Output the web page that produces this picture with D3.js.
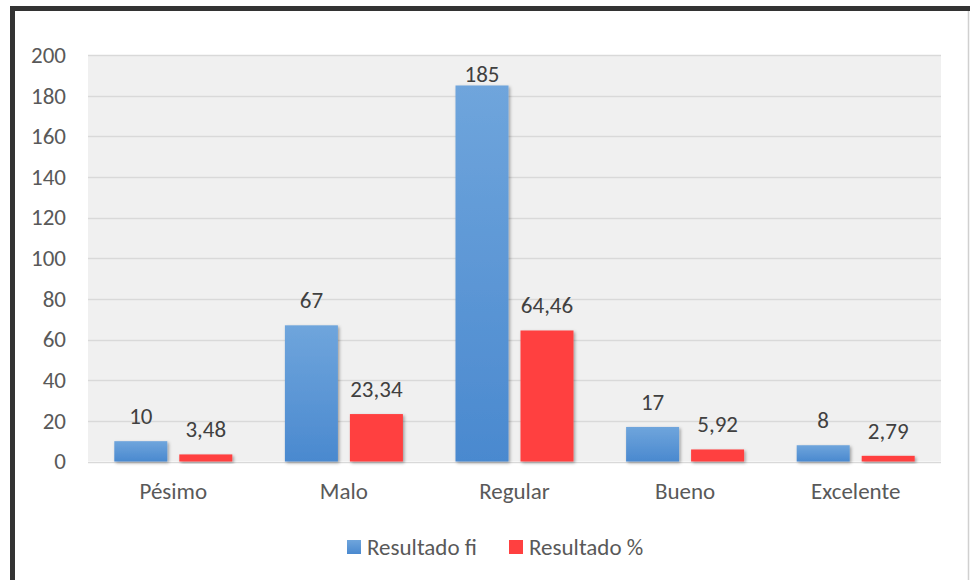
<!DOCTYPE html>
<html>
<head>
<meta charset="utf-8">
<script src="https://cdn.jsdelivr.net/npm/d3@7"></script>
<style>
  body { margin: 0; background: #fff; }
  text { font-family: Carlito, "Noto Sans", sans-serif; }
</style>
</head>
<body>
<div id="chart"></div>
<script>
// data
const categories = ["Pésimo", "Malo", "Regular", "Bueno", "Excelente"];
const seriesNames = ["Resultado fi", "Resultado %"];
const fiValues = [10, 67, 185, 17, 8];
const pctValues = [3.48, 23.34, 64.46, 5.92, 2.79];
const yTicks = [0, 20, 40, 60, 80, 100, 120, 140, 160, 180, 200];

const W = 970, H = 580;
const margin = {top: 55, right: 29, bottom: 119, left: 88};
const width = W - margin.left - margin.right;
const height = H - margin.top - margin.bottom;
const fontSize = "23px";

const svg = d3.select("#chart").append("svg")
    .attr("width", W)
    .attr("height", H);

const defs = svg.append("defs");
const grad = defs.append("linearGradient")
    .attr("id", "blueGrad")
    .attr("x1", 0).attr("y1", 0).attr("x2", 0).attr("y2", 1);
grad.append("stop").attr("offset", "0%").attr("stop-color", "#6fa5dc");
grad.append("stop").attr("offset", "100%").attr("stop-color", "#4a89cf");

const shadow = defs.append("filter").attr("id", "shadow")
    .attr("x", "-20%").attr("y", "-20%").attr("width", "150%").attr("height", "150%");
shadow.append("feDropShadow")
    .attr("dx", 1.5).attr("dy", 1.5).attr("stdDeviation", 1.8)
    .attr("flood-color", "#000").attr("flood-opacity", 0.35);

// outer frame: dark on top and left, light on right
svg.append("path")
    .attr("d", "M12.5,585 L12.5,8.5 L975,8.5")
    .attr("fill", "none")
    .attr("stroke", "#333")
    .attr("stroke-width", 5);
svg.append("line")
    .attr("x1", 968.5).attr("x2", 968.5).attr("y1", 11).attr("y2", 580)
    .attr("stroke", "#d0d0d0").attr("stroke-width", 1.5);

const g = svg.append("g")
    .attr("transform", "translate(" + margin.left + "," + margin.top + ")");

const xScale = d3.scaleBand().domain(categories).range([0, width]);
const yScale = d3.scaleLinear().domain([0, 200]).range([height + 0.5, 0]);

// plot background
g.append("rect")
    .attr("x", 0).attr("y", 0)
    .attr("width", width).attr("height", height)
    .attr("fill", "#f0f0f0");

// gridlines
g.selectAll(".grid")
    .data(yTicks)
    .join("line")
    .attr("class", "grid")
    .attr("x1", 0).attr("x2", width)
    .attr("y1", d => Math.round(yScale(d)) + 0.5)
    .attr("y2", d => Math.round(yScale(d)) + 0.5)
    .attr("stroke", "#d9d9d9")
    .attr("stroke-width", 1.5);

// y axis labels
const yAxis = g.append("g")
    .call(d3.axisLeft(yScale).tickValues(yTicks).tickSize(0).tickPadding(22));
yAxis.select(".domain").remove();
yAxis.selectAll("text")
    .style("font-family", "Carlito, 'Noto Sans', sans-serif")
    .style("font-size", fontSize)
    .attr("fill", "#595959");

// x axis labels
const xAxis = g.append("g")
    .attr("transform", "translate(0," + height + ")")
    .call(d3.axisBottom(xScale).tickSize(0).tickPadding(22));
xAxis.select(".domain").remove();
xAxis.selectAll("text")
    .style("font-family", "Carlito, 'Noto Sans', sans-serif")
    .style("font-size", fontSize)
    .attr("fill", "#595959");

const barW = 53, barGap = 12;
const groupW = barW * 2 + barGap;
const series = [
    {name: seriesNames[0], values: fiValues, fill: "url(#blueGrad)", fmt: d => String(d)},
    {name: seriesNames[1], values: pctValues, fill: "#ff4040", fmt: d => d.toFixed(2).replace(".", ",")}
];

series.forEach((s, si) => {
    const xOf = (c) => xScale(c) + (xScale.bandwidth() - groupW) / 2 + si * (barW + barGap);
    const rows = categories.map((c, i) => ({c: c, v: s.values[i]}));
    g.selectAll(".bar" + si)
        .data(rows)
        .join("rect")
        .attr("class", "bar" + si)
        .attr("x", d => xOf(d.c))
        .attr("y", d => yScale(d.v))
        .attr("width", barW)
        .attr("height", d => yScale(0) - yScale(d.v))
        .attr("fill", s.fill)
        .attr("filter", "url(#shadow)");
    // labels sit above the bar but stay inside the plot area
    g.selectAll(".lbl" + si)
        .data(rows)
        .join("text")
        .attr("class", "lbl" + si)
        .attr("x", d => xOf(d.c) + barW / 2)
        .attr("y", d => Math.max(yScale(d.v) - 17, 27))
        .attr("text-anchor", "middle")
        .style("font-size", fontSize)
        .attr("fill", "#404040")
        .text(d => s.fmt(d.v));
});

// legend
const legend = svg.append("g").attr("transform", "translate(347,547)");
const legendX = [0, 162];
series.forEach((s, si) => {
    const lg = legend.append("g").attr("transform", "translate(" + legendX[si] + ",0)");
    lg.append("rect")
        .attr("x", 0).attr("y", -7)
        .attr("width", 14).attr("height", 14)
        .attr("fill", s.fill);
    lg.append("text")
        .attr("x", 20).attr("y", 0)
        .attr("dy", "0.35em")
        .style("font-size", fontSize)
        .attr("fill", "#595959")
        .text(s.name);
});
</script>
</body>
</html>
